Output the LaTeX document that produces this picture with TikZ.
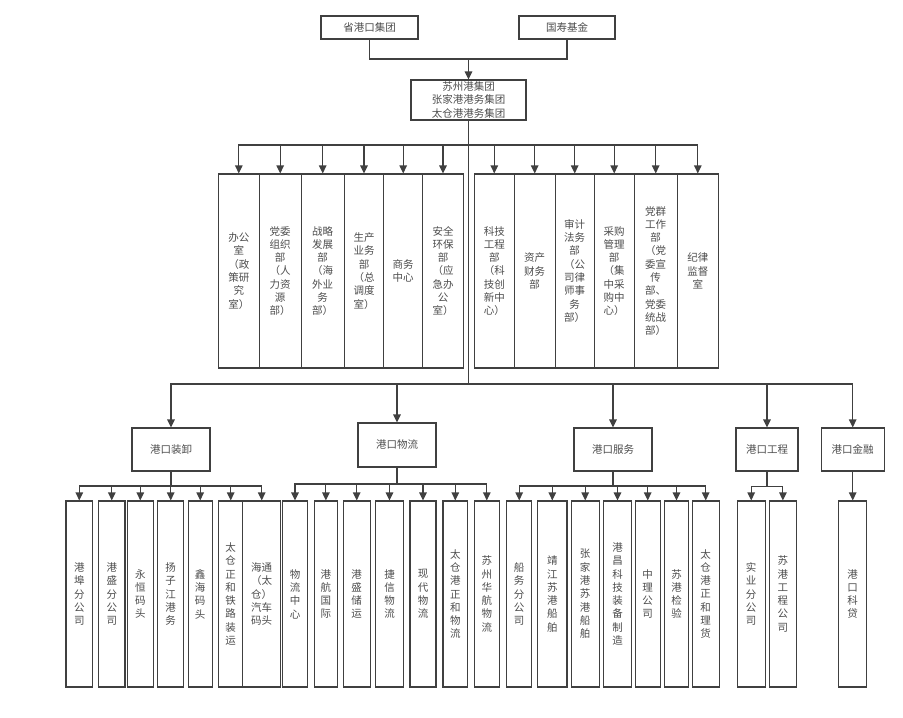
\documentclass[tikz,border=0pt]{standalone}
\usepackage{fontspec}
\setmainfont{Noto Sans CJK SC}
\usetikzlibrary{arrows.meta}
\definecolor{lc}{HTML}{404040}
\definecolor{tc}{HTML}{4D4D4D}
\tikzset{
  box/.style={draw=lc, line width=1.1pt, inner sep=0pt, align=center, text=tc,
    font=\fontsize{10.5}{13.3}\selectfont},
  link/.style={draw=lc, line width=1.1pt},
  arr/.style={link, -{Triangle[length=8pt,width=7.5pt]}}
}
\newcommand\bx[6]{\node[box,minimum width=#4,minimum height=#5] (#1) at (#2,#3) {#6};}
\begin{document}
\begin{tikzpicture}[x=1pt,y=-1pt]
\fill[white] (0,0) rectangle (903,718);
% top
\bx{sg}{369.5}{27.5}{97}{23}{省港口集团}
\bx{gs}{567}{27.5}{96}{23}{国寿基金}
\bx{szg}{468.5}{100}{115}{40}{苏州港集团\\张家港港务集团\\太仓港港务集团}
\coordinate (j1) at (468.5,59);
\draw[link] (sg.south) |- (j1);
\draw[link] (gs.south) |- (j1);
\draw[arr] (j1) -- (szg.north);
% departments
\bx{d1}{238.8}{271}{41}{194}{办公\\室\\（政\\策研\\究\\室）}
\bx{d2}{280.2}{271}{41.7}{194}{党委\\组织\\部\\（人\\力资\\源\\部）}
\bx{d3}{322.7}{271}{43.3}{194}{战略\\发展\\部\\（海\\外业\\务\\部）}
\bx{d4}{364}{271}{39.4}{194}{生产\\业务\\部\\（总\\调度\\室）}
\bx{d5}{403.2}{271}{39}{194}{商务\\中心}
\bx{d6}{443}{271}{40.6}{194}{安全\\环保\\部\\（应\\急办\\公\\室）}
\bx{d7}{494.3}{271}{40}{194}{科技\\工程\\部\\（科\\技创\\新中\\心）}
\bx{d8}{534.7}{271}{40.7}{194}{资产\\财务\\部}
\bx{d9}{574.7}{271}{39.3}{194}{审计\\法务\\部\\（公\\司律\\师事\\务\\部）}
\bx{d10}{614.2}{271}{39.7}{194}{采购\\管理\\部\\（集\\中采\\购中\\心）}
\bx{d11}{655.7}{271}{43.3}{194}{党群\\工作\\部\\（党\\委宣\\传\\部、\\党委\\统战\\部）}
\bx{d12}{697.8}{271}{41}{194}{纪律\\监督\\室}
\coordinate (b1) at (468.5,145);
\draw[link] (szg.south) -- (b1);
\foreach \d in {d1,d2,d3,d4,d5,d6,d7,d8,d9,d10,d11,d12}
  \draw[arr] (b1) -| (\d.north);
% heads
\bx{h1}{171}{449.5}{78}{43}{港口装卸}
\bx{h2}{397}{445}{78}{44}{港口物流}
\bx{h3}{613}{449.5}{78}{43}{港口服务}
\bx{h4}{767}{449.5}{62}{43}{港口工程}
\bx{h5}{852.7}{449.5}{63}{43}{港口金融}
\coordinate (b2) at (468.5,384);
\draw[link] (b1) -- (b2);
\foreach \h in {h1,h2,h3,h4,h5}
  \draw[arr] (b2) -| (\h.north);
% group 1
\bx{a1}{79.3}{594}{26.7}{186}{港\\埠\\分\\公\\司}
\bx{a2}{111.8}{594}{26.3}{186}{港\\盛\\分\\公\\司}
\bx{a3}{140.3}{594}{26}{186}{永\\恒\\码\\头}
\bx{a4}{170.7}{594}{26}{186}{扬\\子\\江\\港\\务}
\bx{a5}{200.2}{594}{23.7}{186}{鑫\\海\\码\\头}
\bx{a6}{230.7}{594}{24}{186}{太\\仓\\正\\和\\铁\\路\\装\\运}
\bx{a7}{261.7}{594}{38}{186}{海通\\（太\\仓）\\汽车\\码头}
\coordinate (g1) at (171,486);
\draw[link] (h1.south) -- (g1);
\foreach \n in {a1,a2,a3,a4,a5,a6,a7}
  \draw[arr] (g1) -| (\n.north);
% group 2
\bx{p1}{295}{594}{24.6}{186}{物\\流\\中\\心}
\bx{p2}{325.9}{594}{23.7}{186}{港\\航\\国\\际}
\bx{p3}{356.7}{594}{26.7}{186}{港\\盛\\储\\运}
\bx{p4}{389.5}{594}{27.6}{186}{捷\\信\\物\\流}
\bx{p5}{423}{594}{26}{186}{现\\代\\物\\流}
\bx{p6}{455.3}{594}{24.7}{186}{太\\仓\\港\\正\\和\\物\\流}
\bx{p7}{486.8}{594}{25}{186}{苏\\州\\华\\航\\物\\流}
\coordinate (g2) at (397,484);
\draw[link] (h2.south) -- (g2);
\foreach \n in {p1,p2,p3,p4,p5,p6,p7}
  \draw[arr] (g2) -| (\n.north);
% group 3
\bx{c1}{519.2}{594}{25}{186}{船\\务\\分\\公\\司}
\bx{c2}{552.3}{594}{29.3}{186}{靖\\江\\苏\\港\\船\\舶}
\bx{c3}{585.2}{594}{28.3}{186}{张\\家\\港\\苏\\港\\船\\舶}
\bx{c4}{617.5}{594}{28.4}{186}{港\\昌\\科\\技\\装\\备\\制\\造}
\bx{c5}{647.7}{594}{25.3}{186}{中\\理\\公\\司}
\bx{c6}{676.5}{594}{24.4}{186}{苏\\港\\检\\验}
\bx{c7}{705.7}{594}{26.7}{186}{太\\仓\\港\\正\\和\\理\\货}
\coordinate (g3) at (613,486);
\draw[link] (h3.south) -- (g3);
\foreach \n in {c1,c2,c3,c4,c5,c6,c7}
  \draw[arr] (g3) -| (\n.north);
% group 4
\bx{e1}{751.2}{594}{27.7}{186}{实\\业\\分\\公\\司}
\bx{e2}{782.9}{594}{27.7}{186}{苏\\港\\工\\程\\公\\司}
\coordinate (g4) at (767,486.7);
\draw[link] (h4.south) -- (g4);
\foreach \n in {e1,e2}
  \draw[arr] (g4) -| (\n.north);
% group 5
\bx{f1}{852.7}{594}{27.7}{186}{港\\口\\科\\贷}
\draw[arr] (h5.south) -- (f1.north);
\end{tikzpicture}
\end{document}
